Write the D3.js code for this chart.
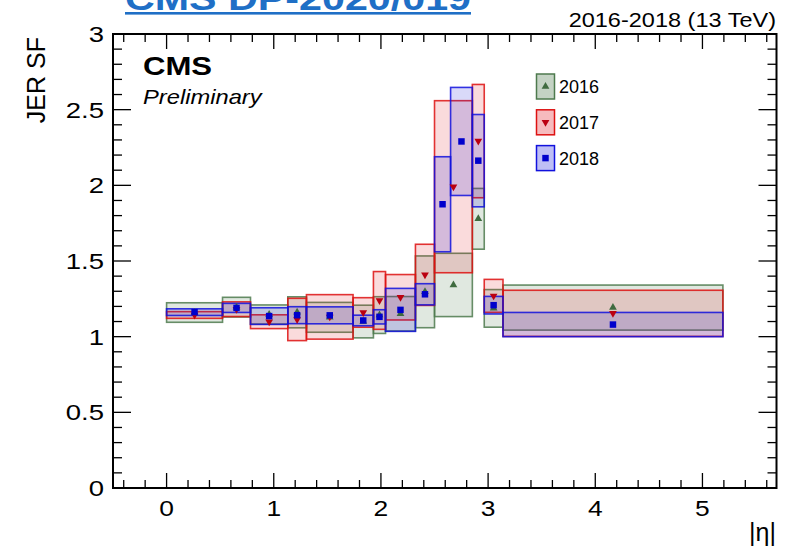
<!DOCTYPE html>
<html>
<head>
<meta charset="utf-8">
<script src="https://cdn.jsdelivr.net/npm/d3@7"></script>
<style>
  html, body { margin: 0; padding: 0; background: #fff; }
  svg { display: block; }
  text { font-family: "Liberation Sans", Arial, Helvetica, sans-serif; }
</style>
</head>
<body>
<svg id="chart" width="788" height="553"></svg>
<script>
// |eta| bin edges (2018 splits the 2.5-2.853 bin at 2.65)
const edges1617 = [0, 0.522, 0.783, 1.131, 1.305, 1.740, 1.930, 2.043, 2.322, 2.500, 2.853, 2.964, 3.139, 5.191];
const edges2018 = [0, 0.522, 0.783, 1.131, 1.305, 1.740, 1.930, 2.043, 2.322, 2.500, 2.650, 2.853, 2.964, 3.139, 5.191];

// JER scale factors and their uncertainties per bin
const sf2016  = [1.1595, 1.1948, 1.1464, 1.1609, 1.1278, 1.1000, 1.1426, 1.1512, 1.2963, 1.3418, 1.7788, 1.1869, 1.1922];
const err2016 = [0.0645, 0.0652, 0.0632, 0.1025, 0.0986, 0.1079, 0.1214, 0.1140, 0.2371, 0.2091, 0.2008, 0.1243, 0.1488];
const sf2017  = [1.1432, 1.1815, 1.0989, 1.1137, 1.1307, 1.1600, 1.2393, 1.2604, 1.4085, 1.9909, 2.2923, 1.2696, 1.1542];
const err2017 = [0.0222, 0.0484, 0.0456, 0.1397, 0.1470, 0.0976, 0.1909, 0.1501, 0.2020, 0.5684, 0.3743, 0.1089, 0.1524];
const sf2018  = [1.162, 1.190, 1.136, 1.142, 1.141, 1.107, 1.131, 1.177, 1.280, 1.875, 2.290, 2.163, 1.208, 1.080];
const err2018 = [0.022, 0.030, 0.055, 0.056, 0.056, 0.035, 0.047, 0.142, 0.070, 0.314, 0.357, 0.305, 0.058, 0.080];

const years = ["2016", "2017", "2018"];
const xTicks = [0, 1, 2, 3, 4, 5];
const yTicks = [0, 0.5, 1, 1.5, 2, 2.5, 3];

const styles = {
  "2016": { stroke: "#4d7a4d", fill: "rgba(60,110,60,0.16)", legendFill: "rgba(60,110,60,0.30)", marker: "#3f6b3f", shape: "up" },
  "2017": { stroke: "#dd1111", fill: "rgba(225,30,40,0.16)", legendFill: "rgba(225,30,40,0.30)", marker: "#bb0011", shape: "down" },
  "2018": { stroke: "#1111dd", fill: "rgba(20,20,220,0.16)", legendFill: "rgba(20,20,220,0.28)", marker: "#0000cc", shape: "square" }
};

const series = [
  { year: "2016", edges: edges1617, values: sf2016, errors: err2016 },
  { year: "2017", edges: edges1617, values: sf2017, errors: err2017 },
  { year: "2018", edges: edges2018, values: sf2018, errors: err2018 }
];

const svg = d3.select("#chart");
const frame = { left: 113, right: 776.5, top: 34, bottom: 488 };

const x = d3.scaleLinear().domain([-0.5, 5.691]).range([frame.left, frame.right]);
const y = d3.scaleLinear().domain([0, 3]).range([frame.bottom, frame.top]);

// uncertainty boxes
series.forEach(s => {
  const st = styles[s.year];
  const bins = s.values.map((v, i) => ({ lo: s.edges[i], hi: s.edges[i + 1], v, e: s.errors[i] }));
  svg.append("g").selectAll("rect").data(bins).join("rect")
    .attr("x", d => x(d.lo))
    .attr("width", d => x(d.hi) - x(d.lo))
    .attr("y", d => y(d.v + d.e))
    .attr("height", d => y(d.v - d.e) - y(d.v + d.e))
    .attr("fill", st.fill)
    .attr("stroke", st.stroke)
    .attr("stroke-opacity", 0.85)
    .attr("stroke-width", 1.6);
});

function markerPath(shape) {
  if (shape === "square") return d3.symbol(d3.symbolSquare, 42)();
  return d3.symbol(d3.symbolTriangle, 26)();
}
function markerTransform(shape, px, py) {
  const rot = shape === "down" ? " rotate(180)" : "";
  return `translate(${px},${py})${rot}`;
}

// central values
series.forEach(s => {
  const st = styles[s.year];
  const pts = s.values.map((v, i) => ({ c: (s.edges[i] + s.edges[i + 1]) / 2, v }));
  svg.append("g").selectAll("path").data(pts).join("path")
    .attr("d", markerPath(st.shape))
    .attr("transform", d => markerTransform(st.shape, x(d.c), y(d.v)))
    .attr("fill", st.marker);
});

// axes on all four sides, ticks pointing inwards
const axisG = svg.append("g").attr("stroke", "#000");
const xMinor = d3.range(-0.4, 5.69, 0.2).map(v => Math.round(v * 10) / 10);
const yMinor = d3.range(0, 3.001, 0.1).map(v => Math.round(v * 10) / 10);

xMinor.forEach(v => {
  const major = Math.abs(v - Math.round(v)) < 1e-6;
  const len = major ? 15 : 8;
  axisG.append("line").attr("x1", x(v)).attr("x2", x(v)).attr("y1", frame.bottom).attr("y2", frame.bottom - len).attr("stroke-width", 1.3);
  axisG.append("line").attr("x1", x(v)).attr("x2", x(v)).attr("y1", frame.top).attr("y2", frame.top + len).attr("stroke-width", 1.3);
});
yMinor.forEach(v => {
  const major = Math.abs(v * 2 - Math.round(v * 2)) < 1e-6;
  const len = major ? 18 : 9;
  axisG.append("line").attr("y1", y(v)).attr("y2", y(v)).attr("x1", frame.left).attr("x2", frame.left + len).attr("stroke-width", 1.3);
  axisG.append("line").attr("y1", y(v)).attr("y2", y(v)).attr("x1", frame.right).attr("x2", frame.right - len).attr("stroke-width", 1.3);
});
svg.append("rect")
  .attr("x", frame.left).attr("y", frame.top)
  .attr("width", frame.right - frame.left).attr("height", frame.bottom - frame.top)
  .attr("fill", "none").attr("stroke", "#000").attr("stroke-width", 2);

// text helper: horizontally widened glyphs, like the canvas fonts
function label(parent, px, py, str, size, sx, anchor, extra) {
  const t = parent.append("text")
    .attr("transform", `translate(${px},${py}) scale(${sx},1)`)
    .attr("text-anchor", anchor || "start")
    .attr("font-size", size)
    .text(str);
  if (extra) extra(t);
  return t;
}

// tick labels
const tickG = svg.append("g");
xTicks.forEach(d => label(tickG, x(d), 516, String(d), 22, 1.2, "middle"));
yTicks.forEach(d => label(tickG, 104, y(d) + 8, String(d), 22, 1.25, "end"));

// axis titles
svg.append("text")
  .attr("transform", "translate(45,37) rotate(-90)")
  .attr("text-anchor", "end").attr("font-size", 25)
  .text("JER SF");
label(svg, 776, 541, "|η|", 25, 1, "end");

// header texts
label(svg, 776, 27, "2016-2018 (13 TeV)", 21, 1.12, "end");
label(svg, 143, 75, "CMS", 25.5, 1.22, "start", t => t.attr("font-weight", "bold"));
label(svg, 143, 104, "Preliminary", 21, 1.13, "start", t => t.attr("font-style", "italic"));

svg.append("text")
  .attr("x", 125).attr("y", 10)
  .attr("font-family", "'Open Sans', sans-serif")
  .attr("font-size", 34).attr("font-weight", 700)
  .attr("fill", "#1f6fc6")
  .attr("textLength", 346).attr("lengthAdjust", "spacingAndGlyphs")
  .text("CMS DP-2020/019");
svg.append("rect").attr("x", 125).attr("y", 12).attr("width", 346).attr("height", 2.6).attr("fill", "#1f6fc6");

// legend
const legend = svg.append("g");
years.forEach((yr, i) => {
  const st = styles[yr];
  const top = 74 + i * 35.8;
  const g = legend.append("g");
  g.append("rect").attr("x", 536.5).attr("y", top).attr("width", 18).attr("height", 25)
    .attr("fill", st.legendFill).attr("stroke", st.stroke).attr("stroke-width", 1.5);
  g.append("path").attr("d", markerPath(st.shape))
    .attr("transform", markerTransform(st.shape, 545.5, top + 12.5))
    .attr("fill", st.marker);
  g.append("text").attr("x", 559).attr("y", top + 12.5).attr("dy", "0.36em")
    .attr("font-size", 18).text(yr);
});
</script>
</body>
</html>
